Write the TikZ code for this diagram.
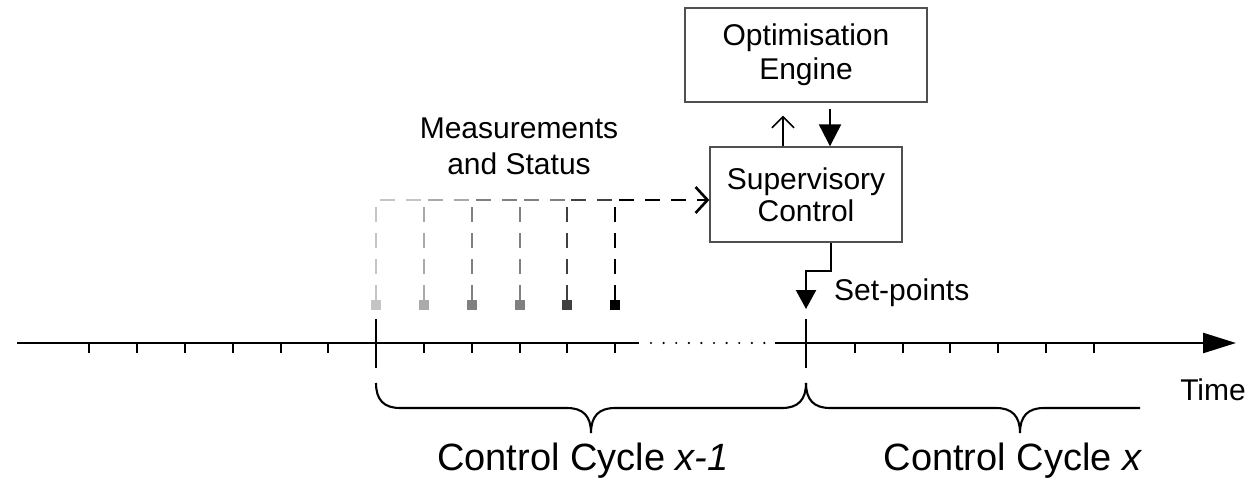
\documentclass[tikz,border=0pt]{standalone}
\usepackage{fontspec}
\setmainfont{Liberation Sans}
\usetikzlibrary{arrows.meta}
\definecolor{boxgray}{RGB}{80,80,80}
\definecolor{gA}{RGB}{196,196,196}
\definecolor{gB}{RGB}{170,170,170}
\definecolor{gC}{RGB}{128,128,128}
\definecolor{gD}{RGB}{128,128,128}
\definecolor{gE}{RGB}{64,64,64}
\definecolor{gF}{RGB}{0,0,0}
\begin{document}
\begin{tikzpicture}[x=1pt,y=-1pt,
  box/.style={draw=boxgray, line width=1.4pt, inner sep=0pt, align=center,
    font=\fontsize{30}{34}\selectfont},
  lbl/.style={font=\fontsize{30}{36}\selectfont, align=center, inner sep=0pt},
  big/.style={font=\fontsize{38}{44}\selectfont, inner sep=0pt},
  sq/.style={rectangle, minimum size=10pt, inner sep=0pt, draw=none},
  axisline/.style={line width=2.5pt},
  tickline/.style={line width=2.3pt},
  dashline/.style={line width=2.6pt, dash pattern=on 15pt off 11pt},
  solidarrow/.style={line width=2.3pt},
  braceline/.style={line width=2.1pt}]
\useasboundingbox (0,0) rectangle (1246,481);

% boxes
\node[box, minimum width=242pt, minimum height=94pt] (O) at (806,55) {Optimisation\\Engine};
\node[box, minimum width=192pt, minimum height=95pt, font=\fontsize{30}{32}\selectfont] (S) at (806,194.5) {Supervisory\\Control};

% labels
\node[lbl] (meas) at (519,146) {Measurements\\and Status};
\node[lbl, anchor=base west] (setp) at (834,300) {Set-points};
\node[lbl, anchor=base east] (time) at (1246,400) {Time};
\node[big, anchor=base] (cc1) at (583,470) {Control Cycle \textit{x-1}};
\node[big, anchor=base] (cc2) at (1013,470) {Control Cycle \textit{x}};

% arrows between boxes
\draw[line width=1.6pt, -{Straight Barb[length=11pt,width=22pt]}, shorten >=13pt]
  ([xshift=-23pt]S.north) -- ([xshift=-23pt]O.south);
\draw[solidarrow, -{Triangle[length=22pt,width=22pt]}, shorten <=6pt]
  ([xshift=24pt]O.south) -- ([xshift=24pt]S.north);

% measurement squares
\node[sq, fill=gA] (m1) at (376,305) {};
\node[sq, fill=gB] (m2) at (424,305) {};
\node[sq, fill=gC] (m3) at (472,305) {};
\node[sq, fill=gD] (m4) at (520,305) {};
\node[sq, fill=gE] (m5) at (567,305) {};
\node[sq, fill=gF] (m6) at (615,305) {};
\coordinate (top) at (0,200);

\draw[dashline, gA] (m1.north) -- (m1 |- top) -- (m2 |- top);
\draw[dashline, gB] (m2.north) -- (m2 |- top) -- (m3 |- top);
\draw[dashline, gC] (m3.north) -- (m3 |- top) -- (m4 |- top);
\draw[dashline, gD] (m4.north) -- (m4 |- top) -- (m5 |- top);
\draw[dashline, gE] (m5.north) -- (m5 |- top) -- (m6 |- top);
\draw[dashline, gF, -{Straight Barb[length=12pt,width=26pt]}]
  (m6.north) -- (m6 |- top) -- (S.west |- top);

% set-points arrow
\coordinate (spt) at (806,309);
\draw[solidarrow, -{Triangle[length=19pt,width=20pt]}]
  ([xshift=25pt]S.south) -- ++(0,28) -| (spt);

% time axis
\coordinate (a0) at (17,343);
\coordinate (a1) at (639,343);
\coordinate (a2) at (775,343);
\coordinate (a3) at (1236,343);
\draw[axisline] (a0) -- (a1);
\draw[axisline, -{Triangle[length=33pt,width=20pt]}] (a2) -- (a3);
\foreach \i in {0,...,9} \fill (651+12.6*\i,343) circle (1.2pt);
\foreach \x in {89,137,185,233,281,328,424,472,520,567,615,855,903,950,998,1046,1094}
  \draw[tickline] (\x,343) -- (\x,353);
\draw[axisline] (376,319) -- (376,368);
\draw[axisline] (806,319) -- (806,368);

% braces
\draw[braceline] (376,383) .. controls (376,400) and (384,408) .. (400,408) -- (567,408)
  .. controls (583,408) and (591,416) .. (591,433)
  .. controls (591,416) and (599,408) .. (615,408) -- (782,408)
  .. controls (798,408) and (806,400) .. (806,383);
\draw[braceline] (806,383) .. controls (806,400) and (814,408) .. (830,408) -- (996,408)
  .. controls (1012,408) and (1020,416) .. (1020,433)
  .. controls (1020,416) and (1028,408) .. (1044,408) -- (1140,408);
\end{tikzpicture}
\end{document}
